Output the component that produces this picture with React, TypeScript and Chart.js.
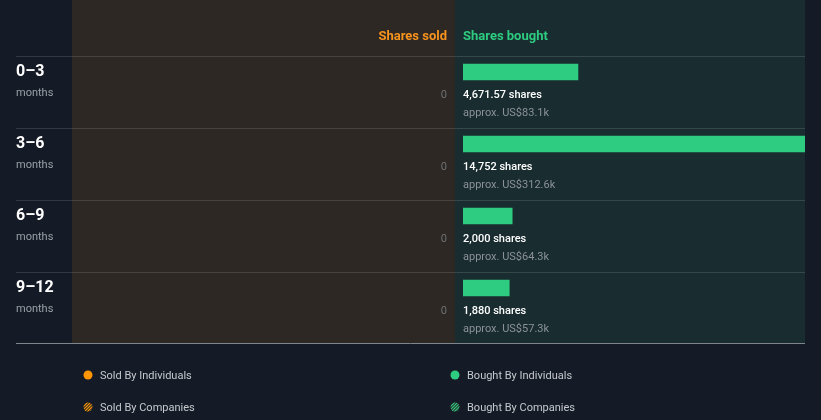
import React, { useEffect, useRef } from "react";
import { Chart, registerables } from "chart.js";

Chart.register(...registerables);

const periods = ["0–3", "3–6", "6–9", "9–12"];
const sharesBought = [4671.57, 14752, 2000, 1880];
const sharesLabels = ["4,671.57 shares", "14,752 shares", "2,000 shares", "1,880 shares"];
const valueLabels = ["approx. US$83.1k", "approx. US$312.6k", "approx. US$64.3k", "approx. US$57.3k"];
const sharesSold = [0, 0, 0, 0];
const legendItems = ["Sold By Individuals", "Sold By Companies", "Bought By Individuals", "Bought By Companies"];

const BG = "#151b26";
const SOLD_BG = "#2d2823";
const BOUGHT_BG = "#192c30";
const GREEN = "#2ecc80";
const FONT = "Roboto, 'Noto Sans', sans-serif";

export default function App() {
  const ref = useRef<HTMLCanvasElement | null>(null);

  useEffect(() => {
    if (!ref.current) return;
    const panelPlugin = {
      id: "panels",
      beforeDraw(chart: any) {
        const ctx = chart.ctx;
        const y = chart.scales.y;
        const area = chart.chartArea;
        const half = (y.getPixelForValue(1) - y.getPixelForValue(0)) / 2;
        const top = y.getPixelForValue(0) - half - 41;
        const bottom = y.getPixelForValue(periods.length - 1) + half + 20;
        ctx.save();
        ctx.fillStyle = BG;
        ctx.fillRect(0, 0, chart.width, chart.height);
        ctx.fillStyle = SOLD_BG;
        ctx.fillRect(72, top, 455 - 72, bottom - top);
        ctx.fillStyle = BOUGHT_BG;
        ctx.fillRect(455, top, area.right - 455, bottom - top);
        ctx.strokeStyle = "rgba(255,255,255,0.13)";
        ctx.lineWidth = 1;
        for (let i = 0; i < periods.length; i++) {
          const yy = Math.round(y.getPixelForValue(i) - 16) + 0.5;
          ctx.beginPath();
          ctx.moveTo(16, yy);
          ctx.lineTo(area.right, yy);
          ctx.stroke();
        }
        ctx.strokeStyle = "#7f858c";
        ctx.beginPath();
        ctx.moveTo(16, Math.round(bottom) - 0.5);
        ctx.lineTo(area.right, Math.round(bottom) - 0.5);
        ctx.stroke();
        ctx.restore();
      },
      afterDraw(chart: any) {
        const ctx = chart.ctx;
        const y = chart.scales.y;
        const area = chart.chartArea;
        ctx.save();
        ctx.textBaseline = "middle";
        ctx.font = `bold 13px ${FONT}`;
        ctx.fillStyle = "#f7931e";
        ctx.textAlign = "right";
        ctx.fillText("Shares sold", 447, 36.5);
        ctx.fillStyle = GREEN;
        ctx.textAlign = "left";
        ctx.fillText("Shares bought", area.left, 36.5);
        for (let i = 0; i < periods.length; i++) {
          const c = y.getPixelForValue(i);
          ctx.textAlign = "left";
          ctx.font = `bold 16px ${FONT}`;
          ctx.fillStyle = "#ffffff";
          ctx.fillText(periods[i], 16, c);
          ctx.font = `11px ${FONT}`;
          ctx.fillStyle = "#9aa0a7";
          ctx.fillText("months", 16, c + 21);
          ctx.font = `500 11px ${FONT}`;
          ctx.fillStyle = "#ffffff";
          ctx.fillText(sharesLabels[i], area.left, c + 23);
          ctx.font = `11px ${FONT}`;
          ctx.fillStyle = "#8b9298";
          ctx.fillText(valueLabels[i], area.left, c + 41);
          ctx.textAlign = "right";
          ctx.fillStyle = "#6c7176";
          ctx.fillText(String(sharesSold[i]), 447, c + 23);
        }
        const legend = [
          { x: 88, y: 376, color: "#ff9500", hatch: false, text: legendItems[0] },
          { x: 88, y: 408, color: "#ff9500", hatch: true, text: legendItems[1] },
          { x: 455, y: 376, color: GREEN, hatch: false, text: legendItems[2] },
          { x: 455, y: 408, color: GREEN, hatch: true, text: legendItems[3] },
        ];
        for (const it of legend) {
          ctx.save();
          ctx.beginPath();
          ctx.arc(it.x, it.y - 1, 4.5, 0, Math.PI * 2);
          if (!it.hatch) {
            ctx.fillStyle = it.color;
            ctx.fill();
          } else {
            ctx.fillStyle = "#2a2a2a";
            ctx.fill();
            ctx.clip();
            ctx.strokeStyle = it.color;
            ctx.lineWidth = 1.2;
            for (let k = -8; k <= 8; k += 3) {
              ctx.beginPath();
              ctx.moveTo(it.x - 6 + k, it.y - 1 + 6);
              ctx.lineTo(it.x + 6 + k, it.y - 1 - 6);
              ctx.stroke();
            }
          }
          ctx.restore();
          ctx.font = `11px ${FONT}`;
          ctx.fillStyle = "#c5c9ce";
          ctx.textAlign = "left";
          ctx.fillText(it.text, it.x + 12, it.y);
        }
        ctx.restore();
      },
    };

    const chart = new Chart(ref.current, {
      type: "bar",
      data: {
        labels: periods,
        datasets: [
          {
            data: sharesBought,
            backgroundColor: GREEN,
            borderWidth: 0,
            barThickness: 16,
            clip: 0,
          } as any,
        ],
      },
      options: {
        indexAxis: "y",
        animation: false,
        responsive: false,
        devicePixelRatio: 1,
        layout: { padding: { left: 463, right: 16, top: 36, bottom: 96 } },
        plugins: { legend: { display: false }, tooltip: { enabled: false } },
        scales: {
          x: { display: false, min: 0, max: 13900 },
          y: { display: false },
        },
      },
      plugins: [panelPlugin],
    });
    return () => chart.destroy();
  }, []);

  return (
    <div style={{ position: "absolute", left: 0, top: 0, width: 821, height: 420, background: BG }}>
      <canvas ref={ref} width={821} height={420} style={{ display: "block" }} />
    </div>
  );
}
